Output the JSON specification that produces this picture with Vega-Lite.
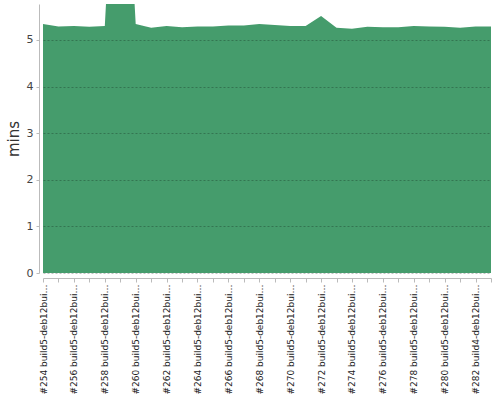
{
  "$schema": "https://vega.github.io/schema/vega-lite/v6.json",
  "width": 448,
  "height": 269,
  "autosize": {"type": "none"},
  "padding": {"left": 43, "top": 4, "right": 9, "bottom": 127},
  "config": {"view": {"stroke": null}, "font": "DejaVu Sans"},
  "data": {"values": [
    {"build": "#254 build5-deb12builder", "mins": 5.34},
    {"build": "#255 build5-deb12builder", "mins": 5.29},
    {"build": "#256 build5-deb12builder", "mins": 5.30},
    {"build": "#257 build5-deb12builder", "mins": 5.28},
    {"build": "#258 build5-deb12builder", "mins": 5.30},
    {"build": "#259 build5-deb12builder", "mins": 11.4},
    {"build": "#260 build5-deb12builder", "mins": 5.34},
    {"build": "#261 build5-deb12builder", "mins": 5.26},
    {"build": "#262 build5-deb12builder", "mins": 5.30},
    {"build": "#263 build5-deb12builder", "mins": 5.27},
    {"build": "#264 build5-deb12builder", "mins": 5.29},
    {"build": "#265 build5-deb12builder", "mins": 5.29},
    {"build": "#266 build5-deb12builder", "mins": 5.31},
    {"build": "#267 build5-deb12builder", "mins": 5.31},
    {"build": "#268 build5-deb12builder", "mins": 5.34},
    {"build": "#269 build5-deb12builder", "mins": 5.32},
    {"build": "#270 build5-deb12builder", "mins": 5.30},
    {"build": "#271 build5-deb12builder", "mins": 5.30},
    {"build": "#272 build5-deb12builder", "mins": 5.51},
    {"build": "#273 build5-deb12builder", "mins": 5.26},
    {"build": "#274 build5-deb12builder", "mins": 5.24},
    {"build": "#275 build5-deb12builder", "mins": 5.28},
    {"build": "#276 build5-deb12builder", "mins": 5.27},
    {"build": "#277 build5-deb12builder", "mins": 5.27},
    {"build": "#278 build5-deb12builder", "mins": 5.30},
    {"build": "#279 build5-deb12builder", "mins": 5.29},
    {"build": "#280 build5-deb12builder", "mins": 5.28},
    {"build": "#281 build5-deb12builder", "mins": 5.26},
    {"build": "#282 build4-deb12builder", "mins": 5.29},
    {"build": "#283 build5-deb12builder", "mins": 5.29}
  ]},
  "mark": {"type": "area", "color": "#459c6c", "opacity": 1, "clip": true},
  "encoding": {
    "x": {
      "field": "build", "type": "ordinal", "sort": null,
      "scale": {"type": "point", "padding": 0},
      "axis": {
        "title": null, "labelAngle": -90, "labelFontSize": 9, "labelLimit": 111,
        "labelColor": "#222", "labelPadding": 2, "tickSize": 4, "offset": 5,
        "domainColor": "#bbb", "tickColor": "#bbb",
        "labelExpr": "parseInt(substring(datum.value, 1, 4)) % 2 == 0 ? datum.label : ''"
      }
    },
    "y": {
      "field": "mins", "type": "quantitative",
      "scale": {"domain": [0, 5.77], "nice": false},
      "axis": {
        "title": "mins", "titleFontSize": 15, "titleFontWeight": "normal", "titleColor": "#333",
        "titlePadding": 5, "labelFontSize": 11, "labelColor": "#444", "labelPadding": 3,
        "values": [0, 1, 2, 3, 4, 5], "offset": 4, "tickSize": 3,
        "domainColor": "#bbb", "tickColor": "#bbb",
        "grid": true, "gridDash": [2, 2], "gridColor": "#000", "gridOpacity": 0.25,
        "zindex": 1
      }
    }
  }
}
